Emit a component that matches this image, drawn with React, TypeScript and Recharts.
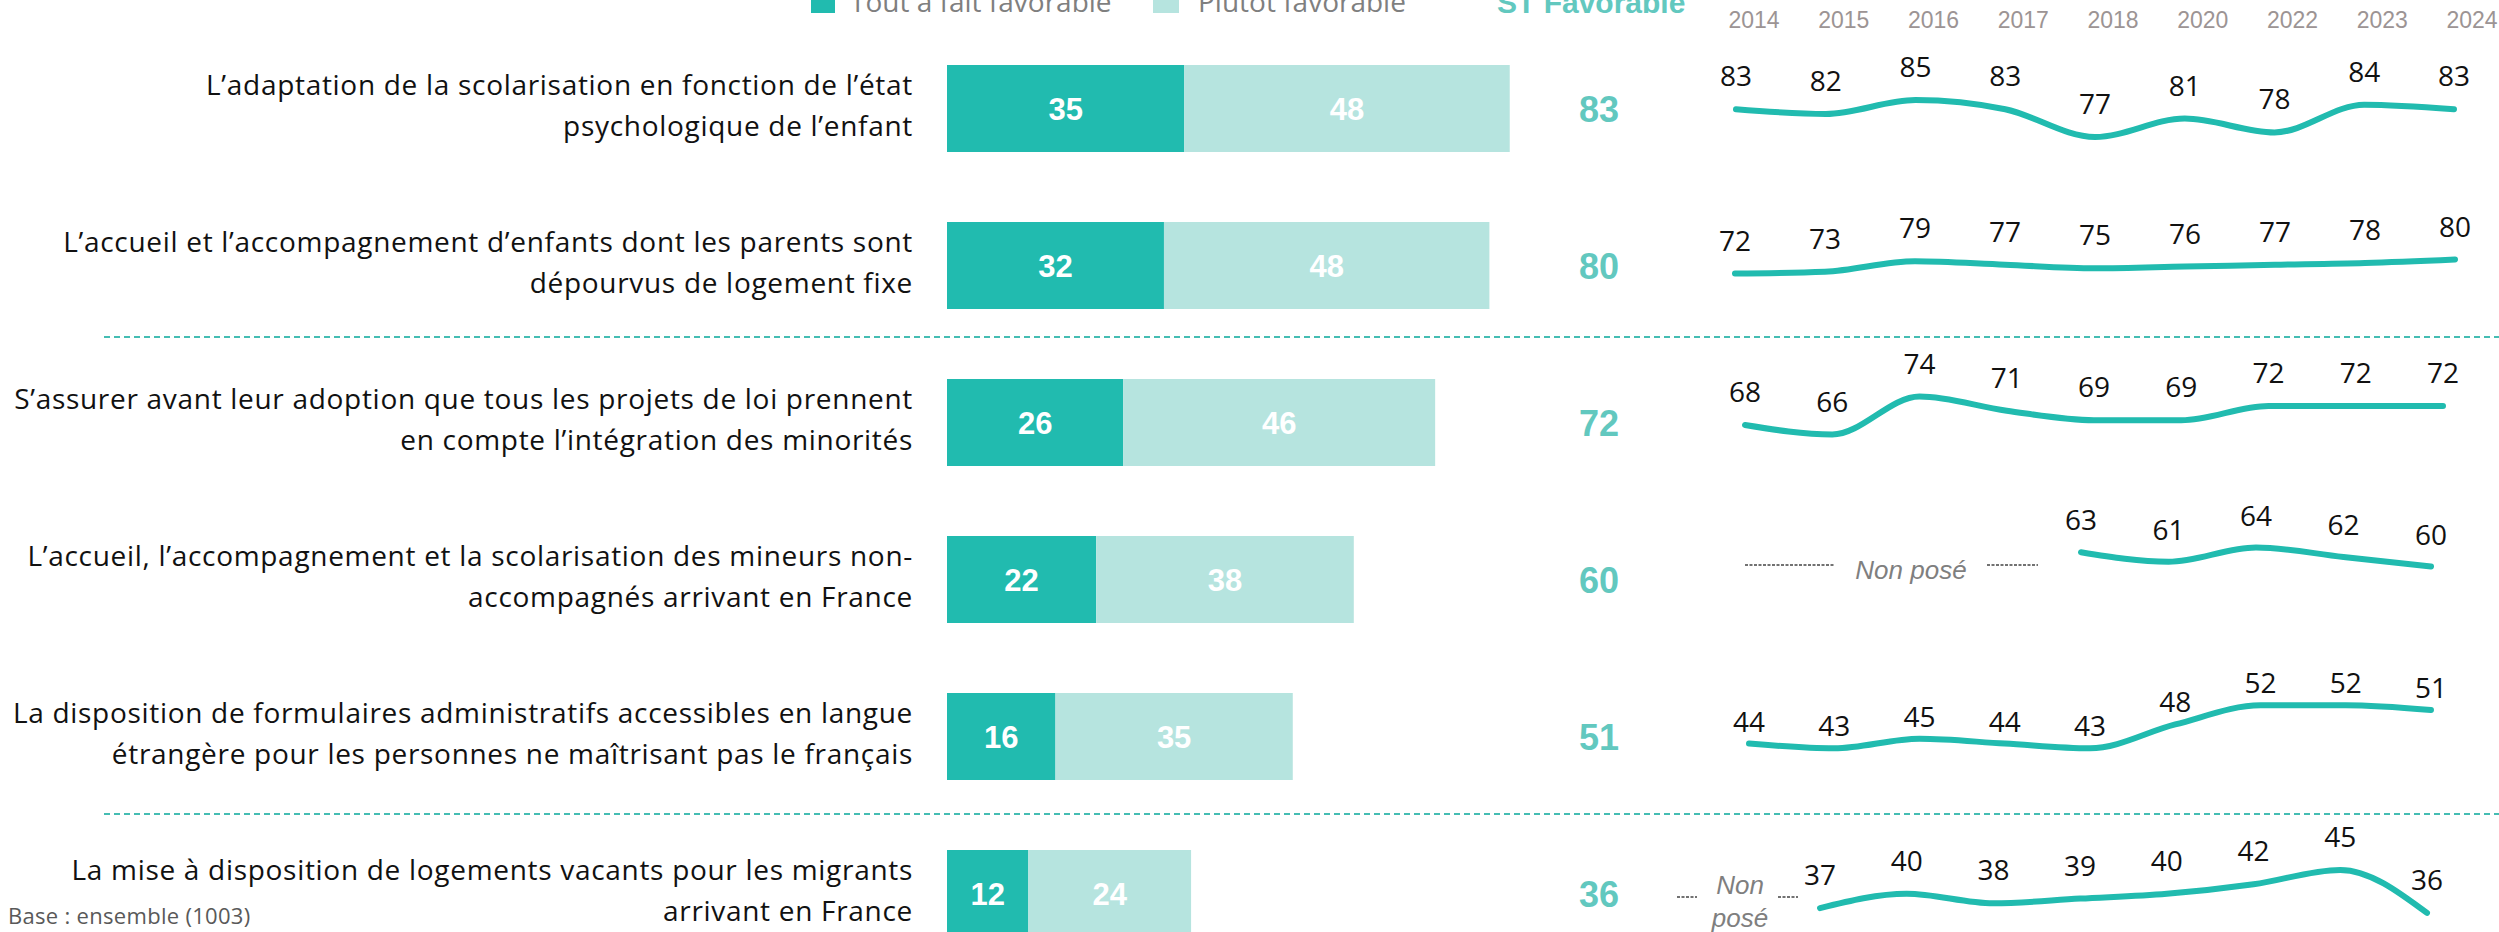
import React from 'react';
import { BarChart, Bar, XAxis, YAxis, LabelList, LineChart, Line } from 'recharts';

// ---------- DATA ----------
const CATEGORIES = [
  'L’adaptation de la scolarisation en fonction de l’état\npsychologique de l’enfant',
  'L’accueil et l’accompagnement d’enfants dont les parents sont\ndépourvus de logement fixe',
  'S’assurer avant leur adoption que tous les projets de loi prennent\nen compte l’intégration des minorités',
  'L’accueil, l’accompagnement et la scolarisation des mineurs non-\naccompagnés arrivant en France',
  'La disposition de formulaires administratifs accessibles en langue\nétrangère pour les personnes ne maîtrisant pas le français',
  'La mise à disposition de logements vacants pour les migrants\narrivant en France',
];
const TOUT_A_FAIT = [35, 32, 26, 22, 16, 12];
const PLUTOT = [48, 48, 46, 38, 35, 24];
const TOTAL = [83, 80, 72, 60, 51, 36];

const SERIES_NAMES = ['Tout à fait favorable', 'Plutôt favorable', 'ST Favorable'];

const YEARS = ['2014', '2015', '2016', '2017', '2018', '2020', '2022', '2023', '2024'];
const TREND_1 = [83, 82, 85, 83, 77, 81, 78, 84, 83];
const TREND_2 = [72, 73, 79, 77, 75, 76, 77, 78, 80];
const TREND_3 = [68, 66, 74, 71, 69, 69, 72, 72, 72];
const TREND_4 = [null, null, null, null, 63, 61, 64, 62, 60];
const TREND_5 = [44, 43, 45, 44, 43, 48, 52, 52, 51];
const TREND_6 = [null, 37, 40, 38, 39, 40, 42, 45, 36];
const TRENDS = [TREND_1, TREND_2, TREND_3, TREND_4, TREND_5, TREND_6];

const NON_POSE = 'Non posé';
const BASE_NOTE = 'Base : ensemble (1003)';

// ---------- STYLE ----------
const DARK = '#21bbaf';
const LIGHT = '#b6e4df';
const TOTAL_COLOR = '#62c8bf';
const GRAY = '#7f7f7f';
const LABEL_FONT = "'Open Sans', Lato, sans-serif";
const NUM_FONT = "'Liberation Sans', Arial, sans-serif";

const barData = CATEGORIES.map((label, i) => ({
  label,
  tout: TOUT_A_FAIT[i],
  plutot: PLUTOT[i],
  total: TOTAL[i],
}));

// layout of each sparkline row (page pixels)
const SPARK_LAYOUT = [
  { x0: 1736, x1: 2454, top: 76.9, h: 92.5, domain: [70, 90], labelOffset: 23 },
  { x0: 1735, x1: 2455, top: 241.5, h: 52.5, domain: [60, 90], labelOffset: 23 },
  { x0: 1745, x1: 2443, top: 367.5, h: 95, domain: [60, 80], labelOffset: 23 },
  { x0: 2081, x1: 2431, top: 518.5, h: 71.25, domain: [55, 70], labelOffset: 22 },
  { x0: 1749, x1: 2431, top: 690.7, h: 71.7, domain: [40, 55], labelOffset: 12 },
  { x0: 1820, x1: 2427, top: 846, h: 95.6, domain: [30, 50], labelOffset: 23 },
];

const TOTAL_X = 1599;

const CategoryTick = (props: any) => {
  const { x, y, payload } = props;
  const lines = String(payload.value).split('\n');
  return (
    <text textAnchor="end" fontFamily={LABEL_FONT} fontSize={28} letterSpacing={0.7} fill="#111">
      {lines.map((l, i) => (
        <tspan key={i} x={x} y={y + (i - (lines.length - 1) / 2) * 41 + 7}>
          {l}
        </tspan>
      ))}
    </text>
  );
};

const insideLabel = (props: any) => {
  const { x, y, width, height, value } = props;
  return (
    <text
      x={Number(x) + Number(width) / 2}
      y={Number(y) + Number(height) / 2 + 11}
      textAnchor="middle"
      fill="#fff"
      fontWeight="bold"
      fontSize={31}
      fontFamily={NUM_FONT}
    >
      {value}
    </text>
  );
};

const totalLabel = (props: any) => {
  const { y, height, value } = props;
  return (
    <text
      x={TOTAL_X}
      y={Number(y) + Number(height) / 2 + 13}
      textAnchor="middle"
      fill={TOTAL_COLOR}
      fontWeight="bold"
      fontSize={36}
      fontFamily={NUM_FONT}
    >
      {value}
    </text>
  );
};

const makePointLabel = (offset: number) => (props: any) => {
  const { x, y, value } = props;
  if (value == null) return null;
  return (
    <text x={x} y={Number(y) - offset} textAnchor="middle" fill="#111" fontSize={28} fontFamily={LABEL_FONT}>
      {value}
    </text>
  );
};

const YEAR_AXIS_H = 30;

const Spark = ({ values, cfg, showYears }: any) => {
  const PAD = 50;
  const padTop = showYears ? cfg.top : 60;
  const padBottom = 30;
  const data = YEARS.map((year, i) => ({ year, v: values[i] })).filter((d) => d.v != null);
  const width = cfg.x1 - cfg.x0 + 2 * PAD;
  const height = cfg.h + padTop + padBottom;
  const chartTop = cfg.top - padTop;
  const YearTick = (p: any) => (
    <text x={p.x + 18} y={28 - chartTop} textAnchor="middle" fill="#9c9494" fontSize={23} fontFamily={NUM_FONT}>
      {p.payload.value}
    </text>
  );
  return (
    <div style={{ position: 'absolute', left: cfg.x0 - PAD, top: chartTop }}>
      <LineChart
        width={width}
        height={height}
        data={data}
        margin={{ top: showYears ? padTop - YEAR_AXIS_H : padTop, right: PAD, bottom: padBottom, left: PAD }}
      >
        <XAxis
          dataKey="year"
          scale="point"
          padding={{ left: 0, right: 0 }}
          hide={!showYears}
          orientation="top"
          height={showYears ? YEAR_AXIS_H : 0}
          axisLine={false}
          tickLine={false}
          interval={0}
          tick={<YearTick />}
        />
        <YAxis hide domain={cfg.domain} allowDataOverflow />
        <Line
          type="monotone"
          dataKey="v"
          stroke={DARK}
          strokeWidth={6}
          strokeLinecap="round"
          dot={false}
          isAnimationActive={false}
        >
          <LabelList dataKey="v" content={makePointLabel(cfg.labelOffset)} />
        </Line>
      </LineChart>
    </div>
  );
};

export default function App() {
  return (
    <div
      style={{
        position: 'absolute',
        left: 0,
        top: 0,
        width: 2499,
        height: 932,
        overflow: 'hidden',
        background: '#fff',
      }}
    >
      <div style={{ position: 'absolute', left: 0, top: 0 }}>
        <BarChart
          layout="vertical"
          width={2499}
          height={980}
          data={barData}
          margin={{ top: 30, right: 874, bottom: 8, left: 0 }}
        >
          <XAxis type="number" domain={[0, 100]} hide />
          <YAxis
            type="category"
            dataKey="label"
            width={947}
            tick={<CategoryTick />}
            tickLine={false}
            axisLine={false}
            tickSize={0}
            tickMargin={34}
            interval={0}
          />
          <Bar dataKey="tout" stackId="a" fill={DARK} barSize={87} isAnimationActive={false}>
            <LabelList dataKey="tout" content={insideLabel} />
          </Bar>
          <Bar dataKey="plutot" stackId="a" fill={LIGHT} barSize={87} isAnimationActive={false}>
            <LabelList dataKey="plutot" content={insideLabel} />
            <LabelList dataKey="total" content={totalLabel} />
          </Bar>
        </BarChart>
      </div>

      {TRENDS.map((t, i) => (
        <Spark key={i} values={t} cfg={SPARK_LAYOUT[i]} showYears={i === 0} />
      ))}

      <svg width={2499} height={932} style={{ position: 'absolute', left: 0, top: 0, pointerEvents: 'none' }}>
        {/* legend */}
        <rect x={811} y={-11} width={24} height={24} fill={DARK} />
        <text x={850} y={12} fill={GRAY} fontSize={28} fontFamily={LABEL_FONT}>
          {SERIES_NAMES[0]}
        </text>
        <rect x={1153} y={-11} width={26} height={24} fill={LIGHT} />
        <text x={1198} y={12} fill={GRAY} fontSize={28} fontFamily={LABEL_FONT}>
          {SERIES_NAMES[1]}
        </text>
        <text x={1497} y={13} fill={TOTAL_COLOR} fontSize={30} fontWeight="bold" fontFamily={NUM_FONT}>
          {SERIES_NAMES[2]}
        </text>

        {/* separators */}
        <line x1={104} x2={2499} y1={337} y2={337} stroke="#45bdb3" strokeWidth={2} strokeDasharray="6 4" />
        <line x1={104} x2={2499} y1={814} y2={814} stroke="#45bdb3" strokeWidth={2} strokeDasharray="6 4" />

        {/* non posé row 4 */}
        <line x1={1745} x2={1834} y1={565} y2={565} stroke="#444" strokeWidth={1.5} strokeDasharray="3 1.5" />
        <line x1={1987} x2={2038} y1={565} y2={565} stroke="#444" strokeWidth={1.5} strokeDasharray="3 1.5" />
        <text x={1911} y={579} textAnchor="middle" fill={GRAY} fontStyle="italic" fontSize={26} fontFamily={NUM_FONT}>
          {NON_POSE}
        </text>

        {/* non posé row 6 */}
        <line x1={1677} x2={1697} y1={897} y2={897} stroke="#444" strokeWidth={1.5} strokeDasharray="3 1.5" />
        <line x1={1778} x2={1798} y1={897} y2={897} stroke="#444" strokeWidth={1.5} strokeDasharray="3 1.5" />
        <text x={1740} y={894} textAnchor="middle" fill={GRAY} fontStyle="italic" fontSize={26} fontFamily={NUM_FONT}>
          {NON_POSE.split(' ')[0]}
        </text>
        <text x={1740} y={927} textAnchor="middle" fill={GRAY} fontStyle="italic" fontSize={26} fontFamily={NUM_FONT}>
          {NON_POSE.split(' ')[1]}
        </text>

        {/* base note */}
        <text x={8} y={924} fill="#595959" fontSize={22} letterSpacing={0.3} fontFamily={LABEL_FONT}>
          {BASE_NOTE}
        </text>
      </svg>
    </div>
  );
}
